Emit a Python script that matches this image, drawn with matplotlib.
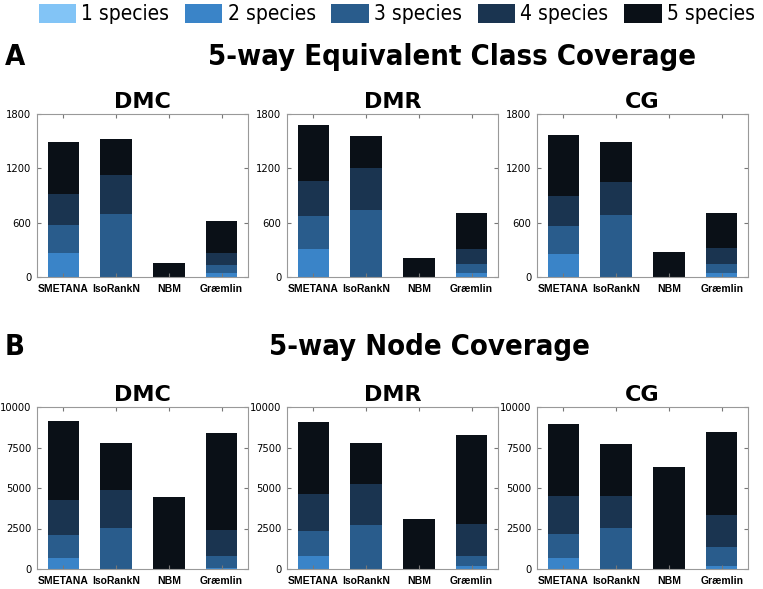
import numpy as np
import matplotlib
matplotlib.use('Agg')
import matplotlib.pyplot as plt
from matplotlib.patches import Patch
from matplotlib import font_manager

# look for a narrow face, the reference headings use one
cond = [f for f in font_manager.fontManager.ttflist
        if 'condensed' in str(f.stretch).lower() or 'Narrow' in f.name or 'Condensed' in f.name]
if cond:
    narrow = dict(family=cond[0].name, stretch=cond[0].stretch)
    shrink = 1.0
else:
    narrow = dict(family='DejaVu Sans', stretch='normal')
    shrink = 0.85

species = ['1 species', '2 species', '3 species', '4 species', '5 species']
colors = ['#82c4f6', '#3a84c8', '#295c8c', '#1a3450', '#0a1017']
methods = ['SMETANA', 'IsoRankN', 'NBM', 'Græmlin']
networks = ['DMC', 'DMR', 'CG']

# rows = species (1..5), cols = methods
ec_dmc = [[0, 0, 0, 0], [262, 0, 0, 44], [311, 695, 0, 85], [340, 429, 0, 133], [576, 402, 152, 359]]
ec_dmr = [[0, 0, 0, 0], [314, 0, 0, 44], [362, 735, 0, 100], [388, 466, 0, 170], [618, 359, 211, 388]]
ec_cg = [[0, 0, 0, 0], [255, 0, 0, 44], [307, 684, 0, 100], [332, 366, 0, 174], [673, 439, 281, 384]]

nc_dmc = [[0, 0, 0, 0], [697, 0, 0, 82], [1373, 2561, 0, 697], [2192, 2316, 0, 1639], [4856, 2889, 4426, 5962]]
nc_dmr = [[0, 0, 0, 0], [820, 0, 0, 164], [1536, 2725, 0, 656], [2295, 2520, 0, 1967], [4426, 2541, 3114, 5511]]
nc_cg = [[0, 0, 0, 0], [697, 0, 0, 164], [1454, 2541, 0, 1168], [2377, 1946, 0, 2008], [4426, 3238, 6311, 5143]]

ec_ticks = [0, 600, 1200, 1800]
nc_ticks = [0, 2500, 5000, 7500, 10000]

fig = plt.figure(figsize=(7.63, 5.89), dpi=100)

lefts = [37 / 763, 287 / 763, 537 / 763]
w = 211 / 763
rows = [((589 - 277) / 589, 163 / 589, [ec_dmc, ec_dmr, ec_cg], ec_ticks),
        ((589 - 569) / 589, 162 / 589, [nc_dmc, nc_dmr, nc_cg], nc_ticks)]

x = np.arange(1, len(methods) + 1)
for bottom, h, datasets, yt in rows:
    for left, name, data in zip(lefts, networks, datasets):
        ax = fig.add_axes([left, bottom, w, h])
        base = np.zeros(len(methods))
        for vals, c in zip(data, colors):
            vals = np.array(vals, dtype=float)
            ax.bar(x, vals, 0.6, bottom=base, color=c, edgecolor='none')
            base += vals
        ax.set_xlim(0.5, 4.5)
        ax.set_ylim(yt[0], yt[-1])
        ax.set_yticks(yt)
        ax.set_xticks(x)
        ax.set_xticklabels(methods, fontweight='bold', fontsize=7.5, family='Liberation Sans')
        for lb in ax.get_yticklabels():
            lb.set_fontsize(8)
            lb.set_family(narrow['family'])
            lb.set_stretch(narrow['stretch'])
        ax.tick_params(direction='in', length=3, top=True, right=True, color='#777777', pad=4)
        ax.tick_params(axis='x', pad=5)
        for s in ax.spines.values():
            s.set_color('#999999')
            s.set_linewidth(0.8)
        ax.set_title(name, fontsize=16, fontweight='bold', pad=4)

handles = [Patch(facecolor=c, edgecolor='none') for c in colors]
fig.legend(handles, species, loc='upper center', bbox_to_anchor=(0.52, 1.025), ncol=5, frameon=False,
           prop=dict(size=15 * shrink, **narrow), handlelength=1.8, handleheight=1.0,
           handletextpad=0.25, columnspacing=0.75)

head = dict(fontsize=21 * shrink, fontweight='bold', va='center', **narrow)
fig.text(5 / 763, 1 - 57 / 589, 'A', ha='left', **head)
fig.text(452 / 763, 1 - 57 / 589, '5-way Equivalent Class Coverage', ha='center', **head)
fig.text(5 / 763, 1 - 347 / 589, 'B', ha='left', **head)
fig.text(429 / 763, 1 - 347 / 589, '5-way Node Coverage', ha='center', **head)

fig.savefig('out.png', dpi=100)
